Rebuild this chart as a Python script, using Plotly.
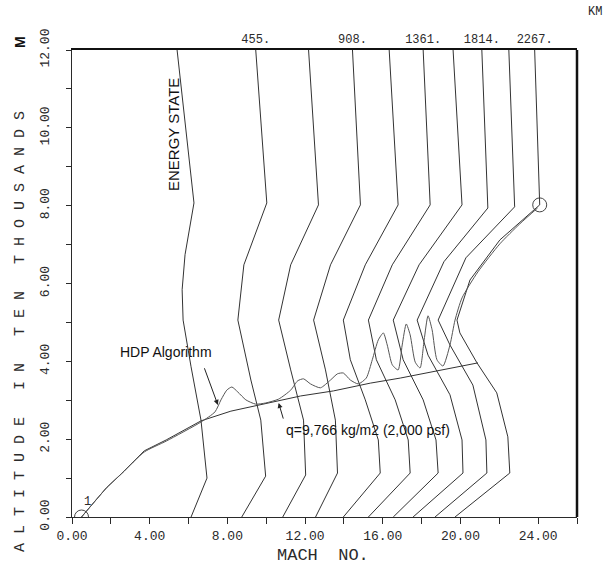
import plotly.graph_objects as go

# ---------------- data (Mach, altitude in 10^4 m) ----------------
es1_mach = [5.41, 6.28, 5.82, 5.67, 5.72, 6.13, 6.64, 6.95, 6.13]
es1_alt  = [12.0, 8.07, 6.74, 5.84, 5.06, 3.86, 2.49, 1.00, 0.0]
es2_mach = [9.46, 10.03, 8.85, 8.54, 9.21, 9.72, 9.97, 8.74]
es2_alt  = [12.0, 8.07, 6.48, 5.06, 3.52, 2.49, 1.05, 0.0]
es3_mach = [12.18, 12.69, 11.26, 10.64, 11.26, 11.92, 12.03, 10.85]
es3_alt  = [12.0, 8.02, 6.48, 5.06, 3.78, 2.49, 1.08, 0.0]
es4_mach = [14.44, 14.85, 13.31, 12.44, 13.05, 13.56, 13.67, 12.54]
es4_alt  = [12.0, 8.02, 6.48, 5.06, 3.78, 2.49, 1.13, 0.0]
es5_mach = [16.33, 16.79, 15.10, 13.97, 14.33, 15.10, 15.77, 15.87, 13.97]
es5_alt  = [12.0, 8.02, 6.48, 5.06, 4.04, 3.01, 1.98, 1.13, 0.0]
es6_mach = [18.08, 18.44, 16.49, 15.26, 15.67, 16.64, 17.31, 17.41, 15.26]
es6_alt  = [12.0, 8.02, 6.48, 5.06, 4.04, 3.01, 1.98, 1.13, 0.0]
es7_mach = [19.62, 20.08, 17.87, 16.54, 17.05, 18.08, 18.74, 18.85, 16.54]
es7_alt  = [12.0, 8.02, 6.48, 5.06, 4.04, 3.01, 1.98, 1.13, 0.0]
es8_mach = [21.10, 21.41, 19.15, 17.77, 18.33, 19.46, 20.08, 20.13, 17.56]
es8_alt  = [12.0, 7.94, 6.56, 5.06, 4.16, 3.14, 1.98, 1.13, 0.0]
es9_mach = [22.49, 22.79, 20.28, 18.85, 19.46, 20.64, 21.31, 21.36, 18.69]
es9_alt  = [12.0, 7.97, 6.66, 5.06, 4.42, 3.39, 1.98, 1.13, 0.0]
es10_mach = [23.82, 24.08, 22.03, 20.49, 19.82, 19.97, 20.85, 21.87, 22.44, 22.54, 19.72]
es10_alt  = [12.0, 8.02, 7.12, 6.09, 5.06, 4.73, 3.96, 3.19, 2.06, 1.13, 0.0]

q_mach = [0.49, 1.10, 1.77, 2.54, 3.72, 4.85, 6.64, 8.18, 10.08, 11.77, 13.46, 15.36, 16.90, 18.95, 20.90]
q_alt  = [0.0, 0.36, 0.75, 1.11, 1.70, 1.98, 2.47, 2.72, 2.93, 3.11, 3.24, 3.44, 3.57, 3.78, 3.96]

hdp_mach = [0.49, 1.15, 1.82, 2.59, 3.72, 4.85, 6.64, 7.36, 7.67, 7.97, 8.23, 8.54, 8.95, 9.46,
            9.97, 10.64, 11.26, 11.62, 11.92, 12.28, 12.79, 13.31, 13.67, 13.97, 14.33, 14.74,
            15.15, 15.46, 15.77, 16.03, 16.23, 16.49, 16.79, 17.0, 17.21, 17.41, 17.67, 17.92,
            18.13, 18.33, 18.54, 18.79, 19.10, 19.46, 19.72, 20.08, 20.90, 22.03, 23.05, 23.97]
hdp_alt  = [0.0, 0.39, 0.77, 1.13, 1.67, 1.95, 2.44, 2.70, 3.01, 3.26, 3.34, 3.21, 3.01, 2.90,
            2.93, 3.03, 3.26, 3.50, 3.55, 3.42, 3.32, 3.52, 3.68, 3.70, 3.52, 3.42,
            3.57, 4.04, 4.55, 4.73, 4.42, 3.91, 3.78, 4.42, 4.96, 4.68, 3.98, 3.83,
            4.55, 5.17, 4.81, 4.04, 3.88, 4.42, 5.06, 5.63, 6.30, 7.02, 7.53, 7.94]

end_mach = [0.49, 24.08]
end_alt = [0.0, 8.02]

x_tickvals = [0, 2, 4, 6, 8, 10, 12, 14, 16, 18, 20, 22, 24, 26]
x_ticktext = ["0.00", "", "4.00", "", "8.00", "", "12.00", "", "16.00", "", "20.00", "", "24.00", ""]
y_tickvals = [0, 1, 2, 3, 4, 5, 6, 7, 8, 9, 10, 11, 12]
y_ticktext = ["0.00", "", "2.00", "", "4.00", "", "6.00", "", "8.00", "", "10.00", "", "12.00"]
km_mach = [9.46, 14.44, 18.08, 21.10, 23.82]
km_text = ["455.", "908.", "1361.", "1814.", "2267."]

MONO = "Liberation Mono"
SANS = "Liberation Sans"
INK = "#2a2a2a"

fig = go.Figure()
lines = [(es1_mach, es1_alt), (es2_mach, es2_alt), (es3_mach, es3_alt), (es4_mach, es4_alt),
         (es5_mach, es5_alt), (es6_mach, es6_alt), (es7_mach, es7_alt), (es8_mach, es8_alt),
         (es9_mach, es9_alt), (es10_mach, es10_alt)]
for mx, al in lines:
    fig.add_trace(go.Scatter(x=mx, y=al, mode="lines", line=dict(color="#333333", width=1),
                             showlegend=False, hoverinfo="skip"))
fig.add_trace(go.Scatter(x=q_mach, y=q_alt, mode="lines", line=dict(color="#333333", width=1),
                         showlegend=False, hoverinfo="skip"))
fig.add_trace(go.Scatter(x=hdp_mach, y=hdp_alt, mode="lines",
                         line=dict(color="#555555", width=1, shape="spline", smoothing=0.6),
                         showlegend=False, hoverinfo="skip"))
fig.add_trace(go.Scatter(x=end_mach, y=end_alt, mode="markers",
                         marker=dict(symbol="circle-open", size=14, color="#444", line=dict(width=1)),
                         showlegend=False, hoverinfo="skip"))
# invisible trace for top axis
fig.add_trace(go.Scatter(x=[0, 26], y=[0, 0], xaxis="x2", mode="lines", line=dict(width=0),
                         showlegend=False, hoverinfo="skip"))

fig.update_layout(
    width=613, height=568,
    margin=dict(l=72, r=36, t=50, b=51),
    paper_bgcolor="white", plot_bgcolor="white",
    xaxis=dict(range=[0, 26], tickvals=x_tickvals, ticktext=x_ticktext, showgrid=False, zeroline=False,
               showline=True, linecolor=INK, linewidth=1, ticks="outside", ticklen=6, tickcolor=INK,
               tickfont=dict(family=MONO, size=13, color=INK)),
    xaxis2=dict(range=[0, 26], overlaying="x", side="top", tickvals=km_mach, ticktext=km_text,
                showgrid=False, zeroline=False, showline=True, linecolor="#111", linewidth=2,
                ticks="", tickfont=dict(family=MONO, size=12, color=INK)),
    yaxis=dict(range=[0, 12], tickvals=y_tickvals, ticktext=y_ticktext, showgrid=False, zeroline=False,
               showline=True, linecolor=INK, linewidth=1, ticks="outside", ticklen=5, tickcolor=INK,
               tickangle=-90, ticklabelstandoff=12,
               tickfont=dict(family=MONO, size=13, color=INK)),
    shapes=[dict(type="line", xref="paper", yref="paper", x0=1, x1=1, y0=0, y1=1,
                 line=dict(color="#111", width=2.5))],
)

C = dict(xanchor="center", yanchor="middle")
ann = []
ann.append(dict(text="A L T I T U D E   I N   T E N   T H O U S A N D S", xref="paper", yref="paper",
                x=-0.103, y=0.398, textangle=-90, showarrow=False,
                font=dict(family=MONO, size=15, color=INK), **C))
ann.append(dict(text="<b>M</b>", xref="paper", yref="paper", x=-0.103, y=1.017, textangle=-90,
                showarrow=False, font=dict(family=SANS, size=14, color="#111"), **C))
ann.append(dict(text="MACH  NO.", xref="paper", yref="paper", x=0.497, y=-0.082, showarrow=False,
                font=dict(family=MONO, size=17, color=INK), **C))
ann.append(dict(text="KM", xref="paper", yref="paper", x=1.036, y=1.081, showarrow=False,
                font=dict(family=MONO, size=12, color=INK), **C))
ann.append(dict(text="ENERGY STATE", x=5.26, y=9.82, textangle=-90, showarrow=False,
                font=dict(family=SANS, size=15, color="#111"), **C))
ann.append(dict(text="HDP Algorithm", x=4.85, y=4.24, showarrow=False,
                font=dict(family=SANS, size=14, color="#111"), **C))
ann.append(dict(text="", x=7.51, y=2.88, ax=6.79, ay=3.86, axref="x", ayref="y", showarrow=True,
                arrowhead=2, arrowsize=1, arrowwidth=1, arrowcolor="#222"))
ann.append(dict(text="q=9,766 kg/m2 (2,000 psf)", x=15.26, y=2.24, showarrow=False,
                font=dict(family=SANS, size=14, color="#111"), **C))
ann.append(dict(text="", x=10.64, y=2.93, ax=10.9, ay=2.49, axref="x", ayref="y", showarrow=True,
                arrowhead=2, arrowsize=1, arrowwidth=1, arrowcolor="#222"))
ann.append(dict(text="1", x=0.8, y=0.38, showarrow=False,
                font=dict(family=MONO, size=12, color=INK), **C))
fig.update_layout(annotations=ann)

fig.write_html("out.html")
